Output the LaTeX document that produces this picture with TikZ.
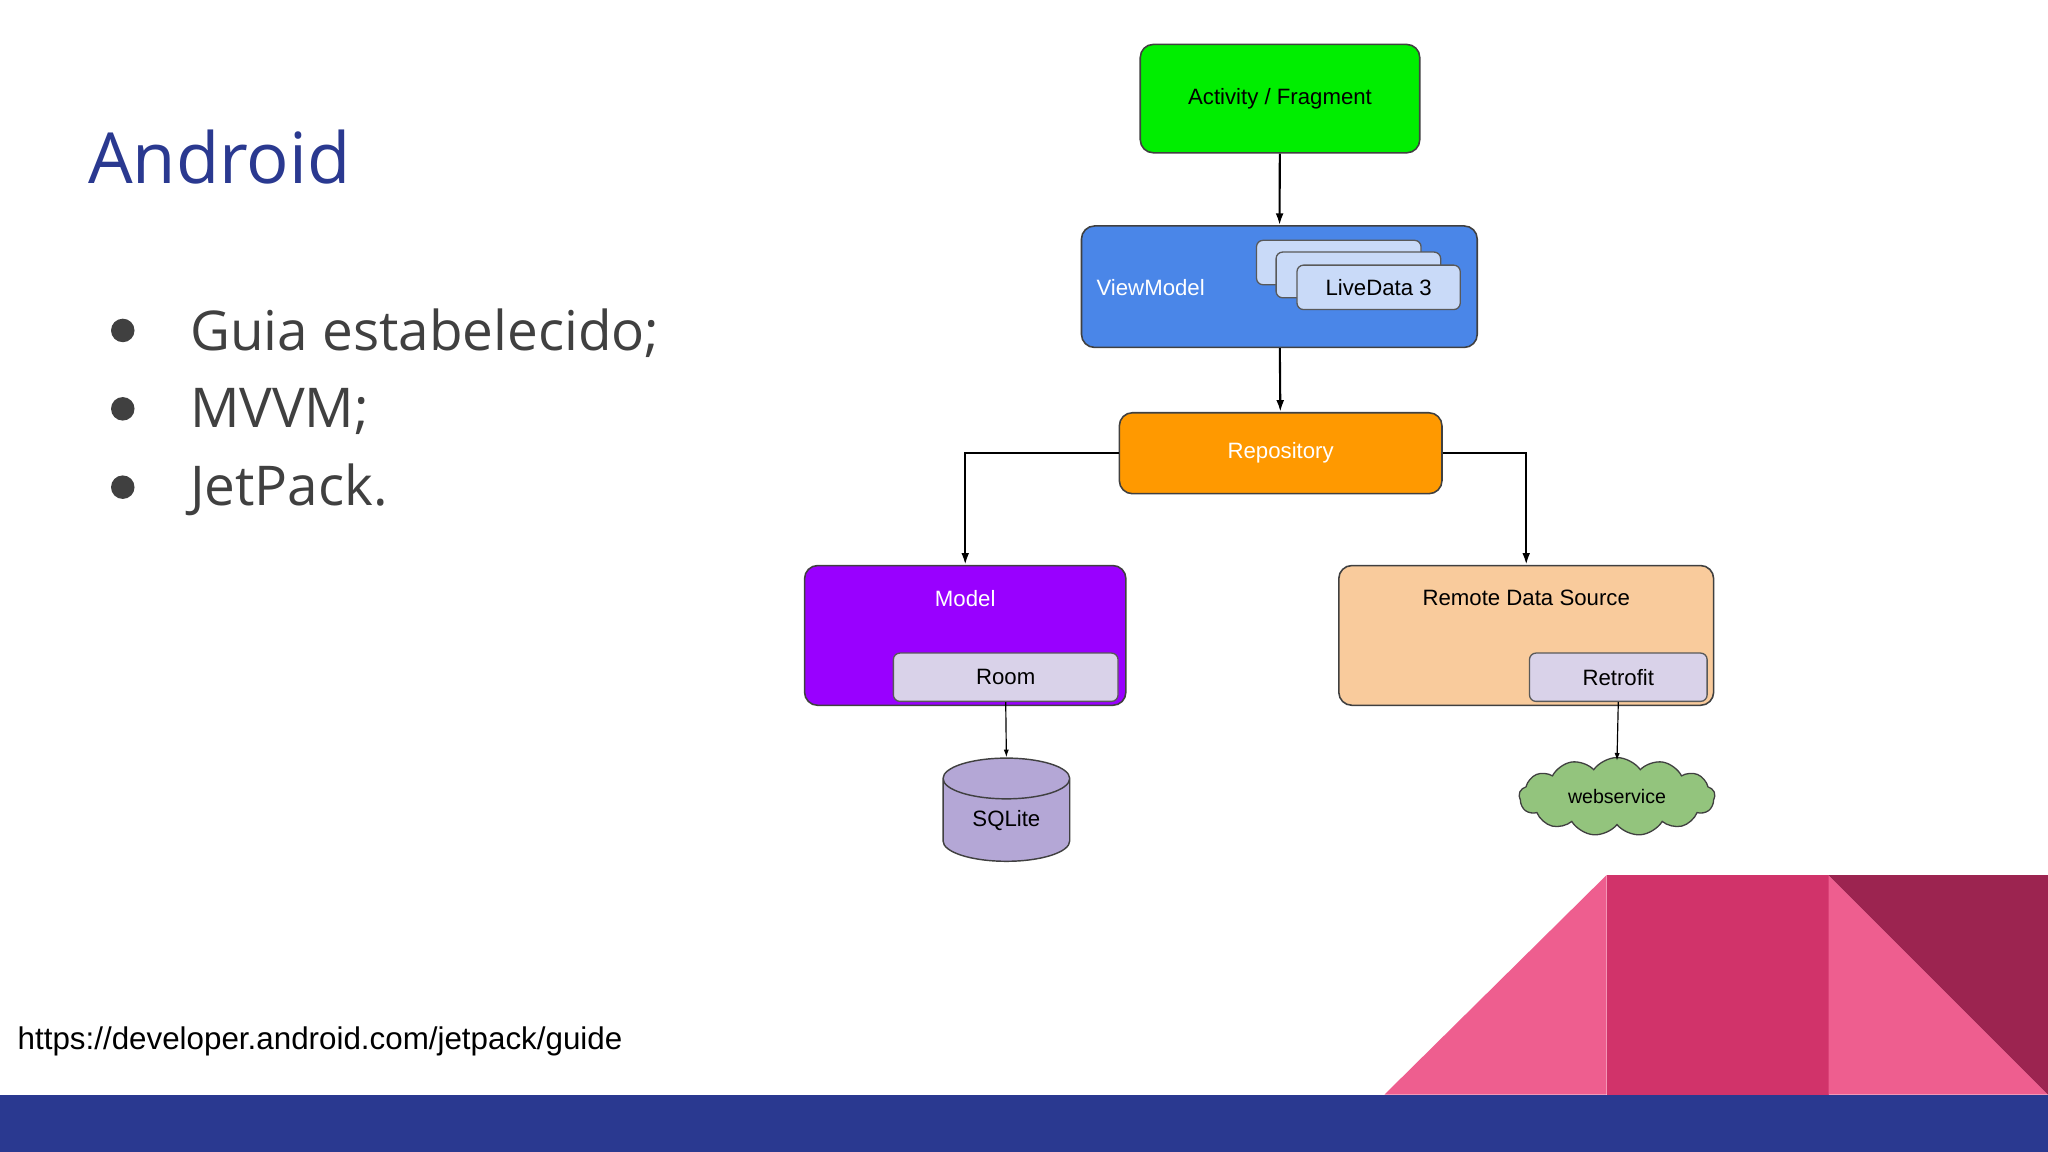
\documentclass[tikz,border=0pt]{standalone}
\usepackage{fontspec}
\setmainfont{Liberation Sans}
\newfontfamily\ttl{Open Sans}
\usetikzlibrary{shapes.geometric,shapes.symbols,arrows.meta}
\definecolor{navy}{HTML}{2A3990}
\definecolor{pk}{HTML}{EE5E8F}
\definecolor{pkm}{HTML}{D1336A}
\definecolor{pkd}{HTML}{9C2450}
\begin{document}
\begin{tikzpicture}[x=1pt,y=-1pt,
 box/.style={draw=black!75,rounded corners=10pt,line width=1.2pt},
 sub/.style={draw=black!65,rounded corners=5pt,fill=lv,line width=1pt,font=\fontsize{17}{19}\selectfont},
 arr/.style={-{Latex[length=9pt,width=6pt]},line width=1.6pt},
 arr2/.style={-{Latex[length=6pt,width=4pt]},line width=0.9pt}]
\definecolor{lv}{HTML}{C9DAF8}
\useasboundingbox (0,0) rectangle (1568,882);
\fill[white] (0,0) rectangle (1568,882);
\fill[navy] (0,838) rectangle (1568,882);
\fill[pk] (1060,838) -- (1230,670) -- (1230,838) -- cycle;
\fill[pkm] (1230,670) rectangle (1400,838);
\fill[pk] (1400,670) -- (1568,838) -- (1400,838) -- cycle;
\fill[pkd] (1400,670) -- (1568,670) -- (1568,838) -- cycle;
\node[anchor=west,text=navy,font=\ttl\fontsize{54}{56}\selectfont] (title) at (64,120) {Android};
\foreach \y/\t [count=\i] in {253/Guia estabelecido;,313/MVVM;,373/JetPack.}{
 \fill[black!75] (94,\y) circle (9);
 \node[anchor=west,text=black!75,font=\ttl\fontsize{42}{44}\selectfont] (b\i) at (142,\y+2) {\t};}
\node[anchor=west,font=\fontsize{24}{26}\selectfont] (url) at (10,797) {https://developer.android.com/jetpack/guide};
\node[box,fill={rgb,255:red,0;green,238;blue,0},minimum width=214,minimum height=83,font=\fontsize{17}{19}\selectfont] (act) at (980,75.5) {Activity / Fragment};
\node[box,fill={rgb,255:red,74;green,134;blue,232},minimum width=303,minimum height=93] (vm) at (979.5,219.5) {};
\node[anchor=west,text=white,font=\fontsize{17}{19}\selectfont] at (836,220) {ViewModel};
\node[sub,minimum width=126,minimum height=34] (l1) at (1025,201) {};
\node[sub,minimum width=126,minimum height=35] (l2) at (1040,210.5) {};
\node[sub,minimum width=125,minimum height=34] (l3) at (1055.5,220) {LiveData 3};
\node[box,fill={rgb,255:red,255;green,153;blue,0},text=white,minimum width=247,minimum height=62,font=\fontsize{17}{19}\selectfont] (repo) at (980.5,347) {Repository};
\node[box,fill={rgb,255:red,153;green,0;blue,255},minimum width=246,minimum height=107] (model) at (739,486.5) {};
\node[text=white,font=\fontsize{17}{19}\selectfont] at (739,458) {Model};
\node[sub,fill={rgb,255:red,217;green,210;blue,233},minimum width=172,minimum height=37] (room) at (770,518.5) {Room};
\node[box,fill={rgb,255:red,249;green,203;blue,156},minimum width=287,minimum height=107] (rds) at (1168.5,486.5) {};
\node[font=\fontsize{17}{19}\selectfont] at (1168.5,458) {Remote Data Source};
\node[sub,fill={rgb,255:red,217;green,210;blue,233},minimum width=136,minimum height=37] (retro) at (1239,518.5) {Retrofit};
\node[cylinder,shape border rotate=90,draw=black!75,line width=1.1pt,fill={rgb,255:red,180;green,167;blue,214},minimum width=97,minimum height=79,aspect=0.6,inner sep=0,font=\fontsize{17}{19}\selectfont] (sql) at (770.5,628) {SQLite};
\node[cloud,cloud puffs=13,cloud puff arc=110,draw=black!75,line width=1pt,fill={rgb,255:red,147;green,196;blue,125},minimum width=150,minimum height=60,aspect=2.5,inner sep=0,font=\fontsize{15}{17}\selectfont] (web) at (1238,610) {webservice};
\draw[arr] (act) -- (vm);
\draw[arr] (vm) -- (repo);
\draw[arr] (repo.west) -| (model.north);
\draw[arr] (repo.east) -| (rds.north);
\draw[arr2] (room.south) -- (sql.top);
\draw[arr2] (retro.south) -- ([yshift=-3pt]web.north);
\end{tikzpicture}
\end{document}
